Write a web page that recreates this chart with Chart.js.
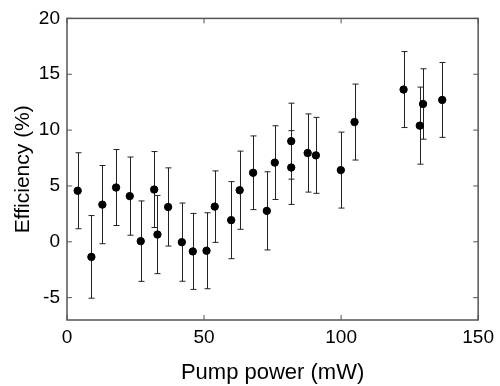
<!DOCTYPE html>
<html>
<head>
<meta charset="utf-8">
<script src="https://cdn.jsdelivr.net/npm/chart.js@4/dist/chart.umd.min.js"></script>
<style>
  html, body { margin: 0; padding: 0; background: #fff; }
  #wrap { width: 500px; height: 386px; }
</style>
</head>
<body>
<div id="wrap"><canvas id="ChartCanvas1" width="500" height="386"></canvas></div>
<script>
// values
const power = [3.9, 8.9, 12.9, 17.9, 22.9, 26.9, 31.8, 33.0, 36.9, 41.9, 45.9, 50.9, 53.9, 59.9,
               63.0, 67.9, 72.9, 75.8, 81.8, 81.8, 87.8, 90.8, 99.9, 104.9, 122.8, 128.7, 129.9, 136.9];
const efficiency = [4.57, -1.35, 3.33, 4.86, 4.09, 0.06, 4.68, 0.65, 3.12, -0.03, -0.86, -0.8, 3.15, 1.94,
                    4.62, 6.18, 2.77, 7.09, 9.01, 6.65, 7.95, 7.74, 6.42, 10.72, 13.63, 10.4, 12.34, 12.7];
const errorBar = [3.4, 3.7, 3.5, 3.4, 3.5, 3.6, 3.4, 3.5, 3.5, 3.5, 3.4, 3.4, 3.2, 3.45,
                  3.5, 3.3, 3.5, 3.3, 3.4, 3.3, 3.5, 3.4, 3.4, 3.4, 3.4, 3.45, 3.15, 3.35];
const xTicks = [0, 50, 100, 150];
const yTicks = [-5, 0, 5, 10, 15, 20];

const fontFamily = '"Liberation Sans", Arial, sans-serif';

// error bars, drawn under the points
const errorBarsPlugin = {
    id: 'errorBars',
    beforeDatasetsDraw(chart) {
        const ctx = chart.ctx;
        const xs = chart.scales.x, ys = chart.scales.y;
        ctx.save();
        ctx.strokeStyle = '#222';
        ctx.lineWidth = 1;
        power.forEach((p, i) => {
            const px = Math.round(xs.getPixelForValue(p)) + 0.5;
            const top = ys.getPixelForValue(efficiency[i] + errorBar[i]);
            const bot = ys.getPixelForValue(efficiency[i] - errorBar[i]);
            ctx.beginPath();
            ctx.moveTo(px, top); ctx.lineTo(px, bot);
            ctx.moveTo(px - 3, top); ctx.lineTo(px + 3, top);
            ctx.moveTo(px - 3, bot); ctx.lineTo(px + 3, bot);
            ctx.stroke();
        });
        ctx.restore();
    }
};

// box frame with inward ticks on all four sides
const framePlugin = {
    id: 'frame',
    afterDraw(chart) {
        const ctx = chart.ctx;
        const a = chart.chartArea;
        const xs = chart.scales.x, ys = chart.scales.y;
        ctx.save();
        ctx.strokeStyle = '#555';
        ctx.lineWidth = 1.5;
        ctx.strokeRect(a.left, a.top, a.right - a.left, a.bottom - a.top);
        ctx.lineWidth = 1;
        ctx.beginPath();
        xTicks.forEach(v => {
            const px = xs.getPixelForValue(v);
            ctx.moveTo(px, a.bottom); ctx.lineTo(px, a.bottom - 5);
            ctx.moveTo(px, a.top); ctx.lineTo(px, a.top + 5);
        });
        yTicks.forEach(v => {
            const py = ys.getPixelForValue(v);
            ctx.moveTo(a.left, py); ctx.lineTo(a.left + 5, py);
            ctx.moveTo(a.right, py); ctx.lineTo(a.right - 5, py);
        });
        ctx.stroke();
        ctx.restore();
    }
};

new Chart(document.getElementById('ChartCanvas1').getContext('2d'), {
    type: 'scatter',
    data: {
        datasets: [{
            label: 'Efficiency',
            data: power.map((p, i) => ({ x: p, y: efficiency[i] })),
            backgroundColor: '#000',
            borderColor: '#000',
            pointRadius: 3.7,
            pointHoverRadius: 3.7
        }]
    },
    options: {
        responsive: false,
        animation: false,
        layout: { padding: { top: 15, right: 17, left: 0, bottom: 0 } },
        plugins: { legend: { display: false }, tooltip: { enabled: false } },
        scales: {
            x: {
                type: 'linear',
                min: 0, max: 150,
                afterBuildTicks: s => { s.ticks = xTicks.map(v => ({ value: v })); },
                afterFit: s => { s.height = 66; },
                grid: { display: false, drawTicks: false },
                border: { display: false },
                ticks: { color: '#000', padding: 6, font: { family: fontFamily, size: 19 } },
                title: {
                    display: true, text: 'Pump power (mW)', color: '#000',
                    font: { family: fontFamily, size: 22 }, padding: { top: 0, bottom: 0 }
                }
            },
            y: {
                type: 'linear',
                min: -7, max: 20,
                afterBuildTicks: s => { s.ticks = yTicks.map(v => ({ value: v })); },
                afterFit: s => { s.width = 67; },
                grid: { display: false, drawTicks: false },
                border: { display: false },
                ticks: { color: '#000', padding: 7, font: { family: fontFamily, size: 19 } },
                title: {
                    display: true, text: 'Efficiency (%)', color: '#000',
                    font: { family: fontFamily, size: 21 }, padding: { top: 11, bottom: 0 }
                }
            }
        }
    },
    plugins: [errorBarsPlugin, framePlugin]
});
</script>
</body>
</html>
